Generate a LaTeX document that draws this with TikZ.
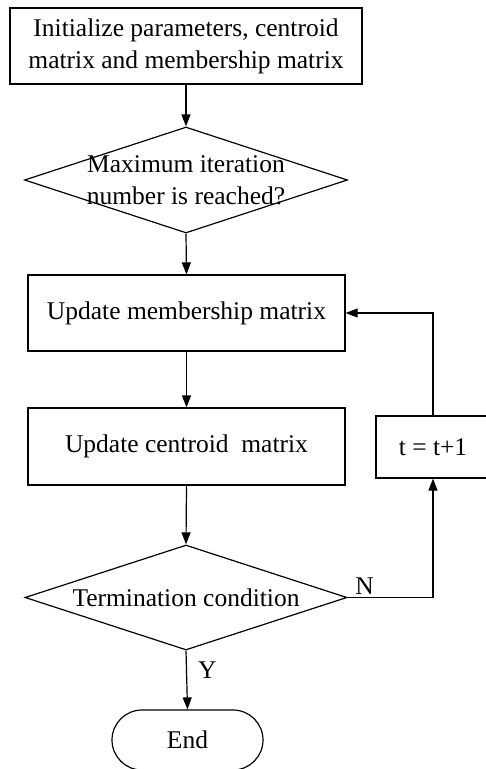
\documentclass[tikz,border=0pt]{standalone}
\usepackage{fontspec}
\setmainfont{Liberation Serif}
\usetikzlibrary{shapes.geometric,arrows.meta}
\begin{document}
\begin{tikzpicture}[x=1pt,y=-1pt,
  line width=1.2pt,
  every node/.style={font=\fontsize{25.5}{32}\selectfont, inner sep=0pt},
  procbox/.style={draw, rectangle, align=center},
  decision/.style={draw, diamond},
  terminal/.style={draw, rectangle, rounded corners=30pt},
  flow/.style={-{Triangle[length=12pt,width=9pt]}}]
\useasboundingbox (0,0) rectangle (486,769);
\clip (0,0) rectangle (486,769);

% main column
\node[procbox, minimum width=352pt, minimum height=76pt] (init) at (186,46)
  {Initialize parameters, centroid\\matrix and membership matrix};
\node[decision, minimum width=323pt, minimum height=106pt] (maxit) at (186,180) {};
\node[align=center] (maxittext) at (186,180) {Maximum iteration\\number is reached?};
\node[procbox, minimum width=317pt, minimum height=76pt] (upmem) at (186.5,313)
  {Update membership matrix};
\node[procbox, minimum width=317pt, minimum height=77pt] (upcen) at (186.5,446.5)
  {Update centroid\ \ matrix};
\node[decision, minimum width=322pt, minimum height=105pt] (term) at (186,597.5) {};
\node (termtext) at (186,597.5) {Termination condition};
\node[terminal, minimum width=151pt, minimum height=60pt] (end) at (187.5,740) {End};

% loop counter
\node[procbox, minimum width=114pt, minimum height=62pt] (inc) at (433,447) {t = t+1};

% connectors
\draw[flow] (init.south) -- (maxit.north);
\draw[flow] (maxit.south) -- (upmem.north);
\draw[flow] (upmem.south) -- (upcen.north);
\draw[flow] (upcen.south) -- (term.north);
\draw[flow] (term.south) -- node[right=11pt, pos=0.33] (ylab) {Y} (end.north);
\draw[flow] (term.east) -- node[above=2pt, pos=0.2] (nlab) {N} (term.east -| inc.south) -- (inc.south);
\draw[flow] (inc.north) |- (upmem.east);
\end{tikzpicture}
\end{document}
